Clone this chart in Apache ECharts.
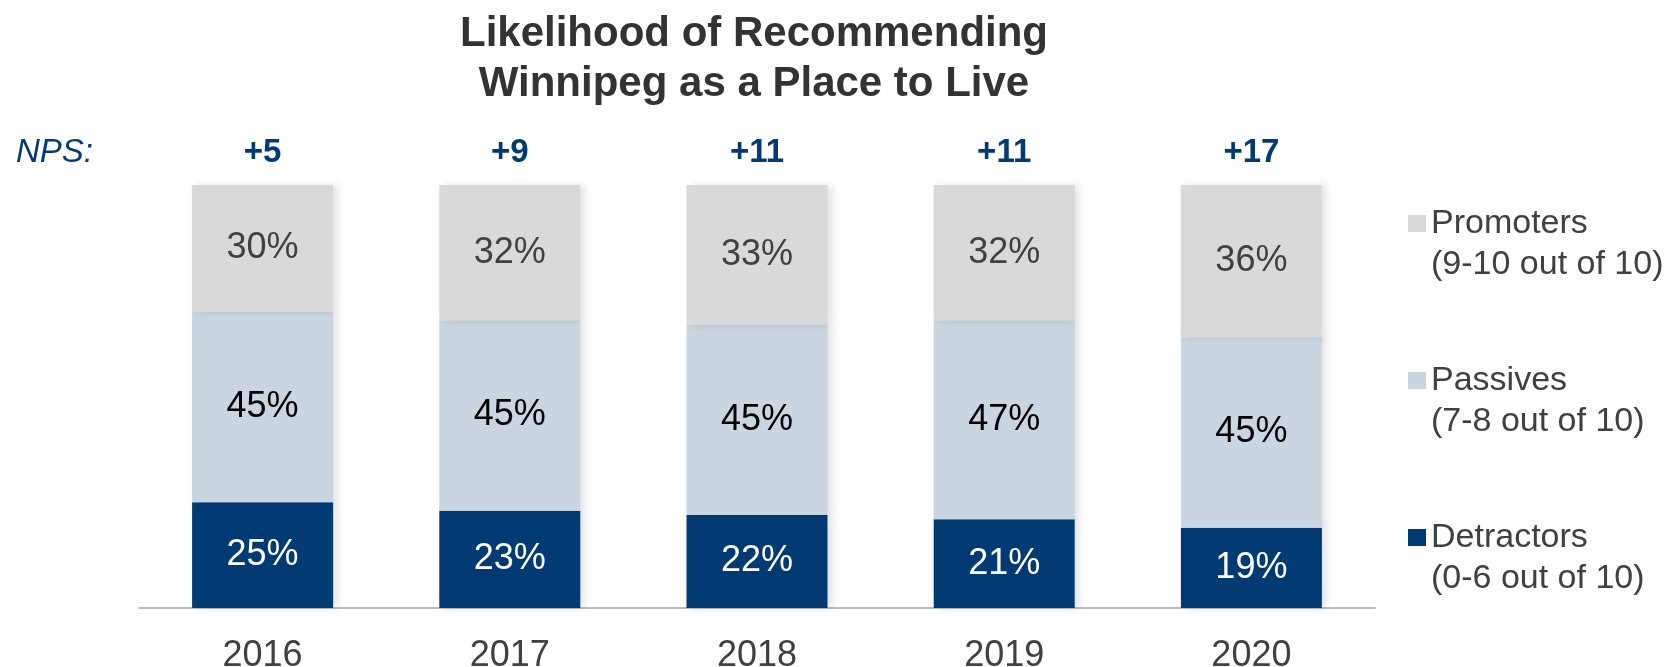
<!DOCTYPE html>
<html>
<head>
<meta charset="utf-8">
<script src="https://cdn.jsdelivr.net/npm/echarts@6/dist/echarts.min.js"></script>
<style>
html,body{margin:0;padding:0;background:#fff;}
#chart{width:1674px;height:667px;}
</style>
</head>
<body>
<div id="chart"></div>
<script>
const years = ['2016', '2017', '2018', '2019', '2020'];
const npsLabels = ['+5', '+9', '+11', '+11', '+17'];
const promoters = [30, 32, 33, 32, 36];
const passives = [45, 45, 45, 47, 45];
const detractors = [25, 23, 22, 21, 19];
const seriesNames = ['Promoters\n(9-10 out of 10)', 'Passives\n(7-8 out of 10)', 'Detractors\n(0-6 out of 10)'];

const FONT = 'Liberation Sans, Arial, sans-serif';
const chart = echarts.init(document.getElementById('chart'));

const barShadow = {shadowColor: 'rgba(0,0,0,0.12)', shadowBlur: 8, shadowOffsetX: 4, shadowOffsetY: 0};
// square marker aligned with the first line of a two-line legend label
const legendIcon = 'path://M0,0h0.01v0.01h-0.01z M0,12h18v17h-18z M0,81.99h0.01v0.01h-0.01z';

function mkSeries(name, data, color, labelColor) {
  return {
    name: name,
    type: 'bar',
    stack: 'nps',
    barWidth: 141,
    data: data,
    itemStyle: Object.assign({color: color}, barShadow),
    label: {
      show: true,
      position: 'inside',
      formatter: '{c}%',
      fontFamily: FONT,
      fontSize: 36,
      color: labelColor
    },
    emphasis: {disabled: true}
  };
}

chart.setOption({
  animation: false,
  backgroundColor: '#ffffff',
  title: [
    {
      text: 'Likelihood of Recommending\nWinnipeg as a Place to Live',
      left: 754,
      top: 9,
      padding: 0,
      textAlign: 'center',
      textStyle: {fontFamily: FONT, fontSize: 42, fontWeight: 'bold', color: '#333333', lineHeight: 50}
    },
    {
      text: 'NPS:',
      left: 16,
      top: 136,
      padding: 0,
      textStyle: {fontFamily: FONT, fontSize: 33, fontStyle: 'italic', fontWeight: 'normal', color: '#023B74', lineHeight: 33}
    }
  ],
  legend: {
    orient: 'vertical',
    left: 1403,
    top: 198,
    itemWidth: 18,
    itemHeight: 82,
    itemGap: 75,
    icon: legendIcon,
    data: [seriesNames[0], seriesNames[1], seriesNames[2]],
    selectedMode: false,
    textStyle: {fontFamily: FONT, fontSize: 34, color: '#404040', lineHeight: 41}
  },
  grid: {left: 139, right: 299, top: 185, bottom: 59, outerBoundsMode: 'none', containLabel: false},
  xAxis: [
    {
      type: 'category',
      data: years,
      position: 'bottom',
      axisLine: {show: true, lineStyle: {color: '#A6A6A6', width: 1.5}},
      axisTick: {show: false},
      axisLabel: {fontFamily: FONT, fontSize: 36, color: '#404040', margin: 30}
    },
    {
      type: 'category',
      data: years,
      position: 'top',
      axisLine: {show: false},
      axisTick: {show: false},
      axisLabel: {
        fontFamily: FONT, fontSize: 33, fontWeight: 'bold', color: '#023B74', margin: 16, lineHeight: 33,
        formatter: function (v, i) { return npsLabels[i]; }
      }
    }
  ],
  yAxis: {type: 'value', min: 0, max: 100, show: false, splitLine: {show: false}},
  series: [
    mkSeries(seriesNames[2], detractors, '#023B74', '#ffffff'),
    mkSeries(seriesNames[1], passives, '#C9D5E1', '#000000'),
    mkSeries(seriesNames[0], promoters, '#D9D9D9', '#404040')
  ]
});
</script>
</body>
</html>
